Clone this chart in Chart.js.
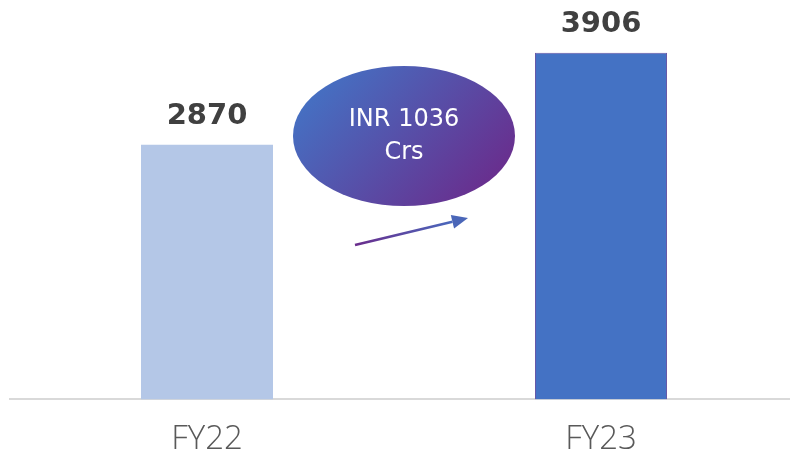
<!DOCTYPE html>
<html>
<head>
<meta charset="utf-8">
<script src="https://cdn.jsdelivr.net/npm/chart.js@4.4.1/dist/chart.umd.min.js"></script>
<style>
    html, body { margin: 0; padding: 0; background: #fff; overflow: hidden; }
    #wrap { width: 798px; height: 480px; position: relative; }
</style>
</head>
<body>
<div id="wrap"><canvas id="chart" width="798" height="480"></canvas></div>
<script>
// chart data
const years = ['FY22', 'FY23'];
const revenue = [2870, 3906];
const growthText = ['INR 1036', 'Crs'];

const barColors = ['#b4c7e7', '#4472c4'];

// value labels above bars + growth bubble and arrow
const overlayPlugin = {
    id: 'overlay',
    afterDatasetsDraw(chart) {
        const ctx = chart.ctx;
        const meta = chart.getDatasetMeta(0);
        const xScale = chart.scales.x;

        ctx.save();
        ctx.font = 'bold 29px "DejaVu Sans", sans-serif';
        ctx.fillStyle = '#404040';
        ctx.textAlign = 'center';
        ctx.textBaseline = 'middle';
        meta.data.forEach((bar, i) => {
            ctx.fillText(String(revenue[i]), bar.x, bar.y - 28);
        });

        // bubble between the two bars
        const cx = xScale.getPixelForValue(0.5);
        const cy = 136;
        const rx = 111, ry = 70;
        const grad = ctx.createLinearGradient(cx - rx * 0.7, cy - ry, cx + rx * 0.7, cy + ry);
        grad.addColorStop(0, '#4472c4');
        grad.addColorStop(1, '#6a2c8c');
        ctx.beginPath();
        ctx.ellipse(cx, cy, rx, ry, 0, 0, Math.PI * 2);
        ctx.fillStyle = grad;
        ctx.fill();

        ctx.fillStyle = '#ffffff';
        ctx.font = '24px "DejaVu Sans", sans-serif';
        ctx.fillText(growthText[0], cx, cy - 16);
        ctx.fillText(growthText[1], cx, cy + 17);

        // arrow
        const x1 = cx - 49, y1 = 245, x2 = cx + 64, y2 = 218;
        const ag = ctx.createLinearGradient(x1, y1, x2, y2);
        ag.addColorStop(0, '#6a2c8c');
        ag.addColorStop(1, '#4472c4');
        const ang = Math.atan2(y2 - y1, x2 - x1);
        const headLen = 16, headW = 7;
        const bx = x2 - headLen * Math.cos(ang), by = y2 - headLen * Math.sin(ang);
        ctx.strokeStyle = ag;
        ctx.lineWidth = 2.5;
        ctx.beginPath();
        ctx.moveTo(x1, y1);
        ctx.lineTo(bx, by);
        ctx.stroke();
        ctx.fillStyle = '#4a66b8';
        ctx.beginPath();
        ctx.moveTo(x2, y2);
        ctx.lineTo(bx + headW * Math.sin(ang), by - headW * Math.cos(ang));
        ctx.lineTo(bx - headW * Math.sin(ang), by + headW * Math.cos(ang));
        ctx.closePath();
        ctx.fill();
        ctx.restore();
    }
};

new Chart(document.getElementById('chart'), {
    type: 'bar',
    data: {
        labels: years,
        datasets: [{
            data: revenue,
            backgroundColor: barColors,
            borderColor: ['#b4c7e7', '#6658a8'],
            borderWidth: [0, 1],
            categoryPercentage: 1,
            barPercentage: 0.335
        }]
    },
    options: {
        responsive: false,
        animation: false,
        layout: { padding: { left: 10, right: 0, top: 0, bottom: 1 } },
        plugins: { legend: { display: false }, tooltip: { enabled: false } },
        scales: {
            x: {
                grid: { display: false, drawTicks: false },
                border: { color: '#d9d9d9', width: 2 },
                ticks: {
                    color: '#595959',
                    padding: 20,
                    font: { family: '"Open Sans", sans-serif', size: 33, weight: '300' }
                }
            },
            y: {
                display: false,
                min: 0,
                max: 4500
            }
        }
    },
    plugins: [overlayPlugin]
});
</script>
</body>
</html>
